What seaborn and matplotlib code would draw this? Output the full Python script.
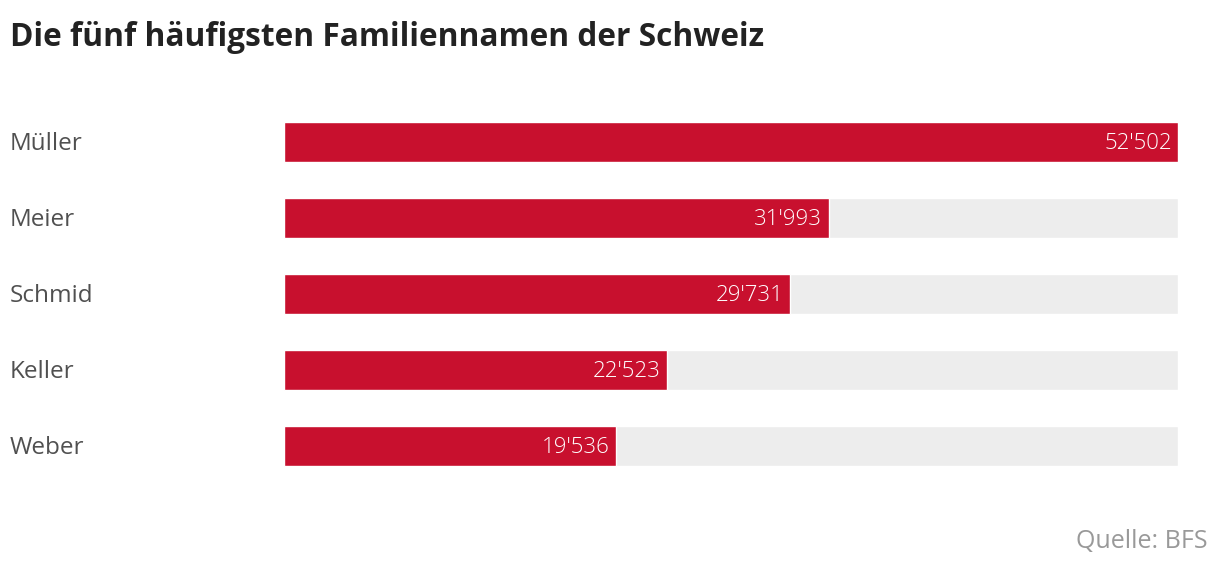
import matplotlib
matplotlib.use("Agg")
import matplotlib.pyplot as plt
import seaborn as sns
import pandas as pd

names = ["Müller", "Meier", "Schmid", "Keller", "Weber"]
values = [52502, 31993, 29731, 22523, 19536]
title = "Die fünf häufigsten Familiennamen der Schweiz"
source = "Quelle: BFS"

RED = "#C8102E"
TRACK = "#EDEDED"

sns.set_theme(style="white")
plt.rcParams["font.family"] = ["Open Sans", "DejaVu Sans"]

df = pd.DataFrame({"name": names, "value": values})
full = max(values)
df["full"] = full

fig = plt.figure(figsize=(12.2, 5.72), dpi=100)
ax = fig.add_axes([283.5 / 1220, 1 - 484 / 572, (1178 - 283.5) / 1220, 380 / 572])

sns.barplot(data=df, x="full", y="name", orient="h", color=TRACK, width=40 / 76,
            ax=ax, saturation=1)
sns.barplot(data=df, x="value", y="name", orient="h", color=RED, width=40 / 76,
            ax=ax, saturation=1)

ax.set_xlim(0, full)
ax.set_ylim(4.5, -0.5)
ax.set_xlabel("")
ax.set_ylabel("")
ax.set_xticks([])
ax.set_yticks([])
for s in ax.spines.values():
    s.set_visible(False)

for i, (n, v) in enumerate(zip(names, values)):
    ax.text(v - full * 0.007, i + 0.02, f"{v:,}".replace(",", "'"), ha="right",
            va="center", color="white", fontsize=16, fontweight="light")
    ax.annotate(n, xy=(10 / 1220, i + 0.02), xycoords=("figure fraction", "data"),
                ha="left", va="center", color="#505050", fontsize=17.5)

fig.text(10 / 1220, 1 - 37 / 572, title, ha="left", va="center", fontsize=22.8,
         fontweight="bold", color="#222222")
fig.text(1208 / 1220, 1 - 541 / 572, source, ha="right", va="center", fontsize=18,
         color="#999999")

fig.savefig("out.png", dpi=100)
